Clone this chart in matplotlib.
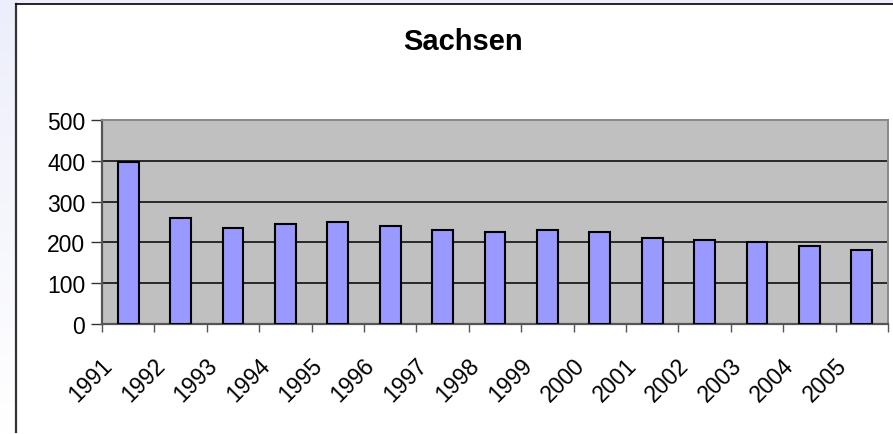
import numpy as np
import matplotlib
matplotlib.use('Agg')
import matplotlib.pyplot as plt
import matplotlib.transforms as mtransforms
from matplotlib.lines import Line2D

years = ['1991', '1992', '1993', '1994', '1995', '1996', '1997', '1998',
         '1999', '2000', '2001', '2002', '2003', '2004', '2005']
values = [397, 260, 236, 245, 250, 241, 231, 225, 230, 225, 211, 206, 201, 191, 181]
y_ticks = [0, 100, 200, 300, 400, 500]

plt.rcParams['font.family'] = ['Liberation Sans', 'DejaVu Sans']

W, H = 893, 435
fig = plt.figure(figsize=(W / 100, H / 100), dpi=100)

# light bluish backdrop outside the chart frame
bg = fig.add_axes([0, 0, 1, 1], zorder=-10)
grad = np.linspace(0, 1, 100).reshape(-1, 1)
bg.imshow(grad, cmap=matplotlib.colors.LinearSegmentedColormap.from_list(
    'g', ['#eceefb', '#ffffff']), aspect='auto', extent=[0, 1, 0, 1], origin='upper')
bg.add_patch(plt.Rectangle((16 / W, 0), 1, 1 - 5 / H, color='white', zorder=2))
bg.set_xlim(0, 1)
bg.set_ylim(0, 1)
bg.axis('off')
fig.add_artist(Line2D([16 / W, 16 / W], [2 / H, 1 - 5 / H], color='#333333', lw=1.6))
fig.add_artist(Line2D([16 / W, 1], [1 - 5 / H, 1 - 5 / H], color='#000000', lw=1.2))

ax = fig.add_axes([102 / W, 1 - 325 / H, (888 - 102) / W, (325 - 121) / H])
ax.set_facecolor('#c0c0c0')
x = np.arange(len(years))
ax.bar(x, values, width=0.4, color='#9999ff', edgecolor='black', linewidth=1.5, zorder=3)

ax.set_xlim(-0.5, len(years) - 0.5)
ax.set_ylim(0, 500)
ax.set_yticks(y_ticks)
ax.set_yticklabels([str(v) for v in y_ticks], fontsize=16.5)
for v in y_ticks[1:-1]:
    ax.axhline(v, color='black', lw=1.1, zorder=1)

ax.set_xticks(np.arange(len(years) + 1) - 0.5)
ax.set_xticklabels([])
ax.set_xticks(x, minor=True)
ax.set_xticklabels(years, minor=True, fontsize=16.5, rotation=45,
                   ha='right', va='center', rotation_mode='anchor')
ax.tick_params(axis='x', which='minor', length=0, pad=27)
ax.tick_params(axis='x', which='major', length=6, width=1, color='#555555', direction='out')
ax.tick_params(axis='y', length=8, width=1, color='#333333', direction='out', pad=4)

shift = mtransforms.ScaledTranslation(-0.19, 0, fig.dpi_scale_trans)
for lab in ax.get_xticklabels(minor=True):
    lab.set_transform(lab.get_transform() + shift)

for side in ['left', 'bottom']:
    ax.spines[side].set_color('#555555')
    ax.spines[side].set_linewidth(1.6)
for side in ['top', 'right']:
    ax.spines[side].set_color('#888888')
    ax.spines[side].set_linewidth(1.4)

fig.text(463 / W, 1 - 42 / H, 'Sachsen', fontsize=21, fontweight='bold',
         ha='center', va='center')

fig.savefig('out.png', dpi=100)
